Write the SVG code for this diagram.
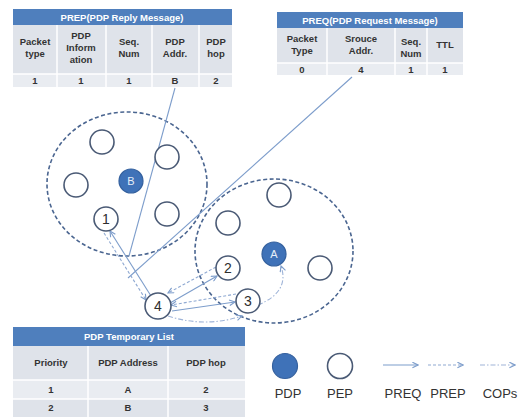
<svg xmlns="http://www.w3.org/2000/svg" width="527" height="417" viewBox="0 0 527 417">
<style>
.hdr{fill:#4f7fbd}
.r1{fill:#dfe3ea}
.r2{fill:#e9ecf1}
.sep{stroke:#fff;stroke-width:1.5}
.ht{font-family:"Liberation Sans",Arial,sans-serif;font-size:9.5px;font-weight:bold;fill:#fff;text-anchor:middle}
.ct{font-family:"Liberation Sans",Arial,sans-serif;font-size:9.5px;font-weight:bold;fill:#333;text-anchor:middle}
.pep{fill:#fff;stroke:#4a5a75;stroke-width:1.6}
.pdp{fill:#3f72b8;stroke:#35619e;stroke-width:1.2}
.nt{font-family:"Liberation Sans",Arial,sans-serif;font-size:14px;fill:#2e2e2e;text-anchor:middle}
.pt{font-family:"Liberation Sans",Arial,sans-serif;font-size:11px;fill:#e6eef8;text-anchor:middle}
.cl{fill:none;stroke:#4a6590;stroke-width:1.6;stroke-dasharray:4 2.5}
.preq{fill:none;stroke:#7d9dcb;stroke-width:1.1;marker-end:url(#ah)}
.prep{fill:none;stroke:#8fa9d2;stroke-width:1.1;stroke-dasharray:3 2;marker-end:url(#ah)}
.cops{fill:none;stroke:#9fb4d8;stroke-width:1.1;stroke-dasharray:5 2 1.5 2;marker-end:url(#ah)}
.ln{fill:none;stroke:#7d9dcb;stroke-width:1.1}
.lt{font-family:"Liberation Sans",Arial,sans-serif;font-size:13px;fill:#333;text-anchor:middle}
</style>
<defs>
<marker id="ah" viewBox="0 0 10 10" refX="9" refY="5" markerWidth="7" markerHeight="7" orient="auto" markerUnits="userSpaceOnUse">
<path d="M1,1 L9,5 L1,9" fill="none" stroke="#7d9dcb" stroke-width="1.6"/>
</marker>
</defs>

<g id="prep-table">
<rect class="hdr" x="13" y="9" width="219" height="16"/>
<text class="ht" x="122" y="20.5">PREP(PDP Reply Message)</text>
<rect class="r1" x="13" y="25" width="219" height="49"/>
<rect class="r2" x="13" y="74" width="219" height="13"/>
<line class="sep" x1="57" y1="25" x2="57" y2="87"/>
<line class="sep" x1="106" y1="25" x2="106" y2="87"/>
<line class="sep" x1="152" y1="25" x2="152" y2="87"/>
<line class="sep" x1="199" y1="25" x2="199" y2="87"/>
<line class="sep" x1="13" y1="74" x2="232" y2="74"/>
<text class="ct" x="35" y="45">Packet</text><text class="ct" x="35" y="57">type</text>
<text class="ct" x="81" y="39">PDP</text><text class="ct" x="81" y="51">Inform</text><text class="ct" x="81" y="63">ation</text>
<text class="ct" x="129" y="45">Seq.</text><text class="ct" x="129" y="57">Num</text>
<text class="ct" x="175" y="45">PDP</text><text class="ct" x="175" y="57">Addr.</text>
<text class="ct" x="216" y="45">PDP</text><text class="ct" x="216" y="57">hop</text>
<text class="ct" x="35" y="84">1</text><text class="ct" x="81" y="84">1</text><text class="ct" x="129" y="84">1</text><text class="ct" x="175" y="84">B</text><text class="ct" x="216" y="84">2</text>
</g>

<g id="preq-table">
<rect class="hdr" x="277" y="12" width="186" height="16"/>
<text class="ht" x="370" y="23.5">PREQ(PDP Request Message)</text>
<rect class="r1" x="277" y="28" width="186" height="35"/>
<rect class="r2" x="277" y="63" width="186" height="12"/>
<line class="sep" x1="327" y1="28" x2="327" y2="75"/>
<line class="sep" x1="395" y1="28" x2="395" y2="75"/>
<line class="sep" x1="427" y1="28" x2="427" y2="75"/>
<line class="sep" x1="277" y1="63" x2="463" y2="63"/>
<text class="ct" x="302" y="42">Packet</text><text class="ct" x="302" y="54">Type</text>
<text class="ct" x="361" y="42">Srouce</text><text class="ct" x="361" y="54">Addr.</text>
<text class="ct" x="411" y="45">Seq.</text><text class="ct" x="411" y="57">Num</text>
<text class="ct" x="445" y="48">TTL</text>
<text class="ct" x="302" y="72.5">0</text><text class="ct" x="361" y="72.5">4</text><text class="ct" x="411" y="72.5">1</text><text class="ct" x="445" y="72.5">1</text>
</g>

<g id="clusters">
<ellipse id="cluster-b" class="cl" cx="127" cy="184" rx="80" ry="72"/>
<ellipse id="cluster-a" class="cl" cx="274" cy="251" rx="79" ry="72"/>
</g>

<g id="connectors">
<line class="ln" x1="175" y1="88" x2="129" y2="256"/>
<line class="ln" x1="352" y1="77" x2="128" y2="278"/>
<line class="preq" x1="151" y1="296" x2="110" y2="231"/>
<line class="prep" x1="104" y1="233" x2="146" y2="300"/>
<line class="preq" x1="170" y1="303" x2="217" y2="276"/>
<line class="prep" x1="216" y1="267" x2="168" y2="293"/>
<line class="preq" x1="172" y1="311" x2="235" y2="302"/>
<line class="prep" x1="236" y1="294" x2="171" y2="305"/>
<path class="cops" d="M168,316 Q205,328 242,316"/>
<path class="cops" d="M258,305 Q290,292 281,266"/>
</g>

<g id="node-pep-1"><circle class="pep" cx="102" cy="142" r="12"/></g>
<g id="node-pep-2"><circle class="pep" cx="167" cy="157" r="12"/></g>
<g id="node-pep-3"><circle class="pep" cx="76" cy="185" r="12"/></g>
<g id="node-b"><circle class="pdp" cx="131" cy="181" r="12"/><text class="pt" x="131" y="185">B</text></g>
<g id="node-pep-4"><circle class="pep" cx="167" cy="214" r="12"/></g>
<g id="node-1"><circle class="pep" cx="106" cy="219" r="12"/><text class="nt" x="106" y="224">1</text></g>

<g id="node-pep-5"><circle class="pep" cx="279" cy="195" r="12"/></g>
<g id="node-pep-6"><circle class="pep" cx="228" cy="223" r="12"/></g>
<g id="node-a"><circle class="pdp" cx="274" cy="254" r="12"/><text class="pt" x="274" y="258">A</text></g>
<g id="node-pep-7"><circle class="pep" cx="320" cy="268" r="12"/></g>
<g id="node-2"><circle class="pep" cx="228" cy="268" r="12"/><text class="nt" x="228" y="273">2</text></g>
<g id="node-3"><circle class="pep" cx="248" cy="301" r="12"/><text class="nt" x="248" y="306">3</text></g>
<g id="node-4"><circle class="pep" cx="158" cy="306" r="13"/><text class="nt" x="158" y="311">4</text></g>

<g id="pdp-list">
<rect class="hdr" x="13" y="327" width="232" height="19"/>
<text class="ht" x="129" y="340">PDP Temporary List</text>
<rect class="r1" x="13" y="346" width="232" height="34"/>
<rect class="r2" x="13" y="380" width="232" height="19"/>
<rect class="r1" x="13" y="399" width="232" height="18"/>
<line class="sep" x1="88" y1="346" x2="88" y2="417"/>
<line class="sep" x1="168" y1="346" x2="168" y2="417"/>
<line class="sep" x1="13" y1="380" x2="245" y2="380"/>
<line class="sep" x1="13" y1="399" x2="245" y2="399"/>
<text class="ct" x="51" y="366">Priority</text><text class="ct" x="128" y="366">PDP Address</text><text class="ct" x="206" y="366">PDP hop</text>
<text class="ct" x="51" y="393">1</text><text class="ct" x="128" y="393">A</text><text class="ct" x="206" y="393">2</text>
<text class="ct" x="51" y="411">2</text><text class="ct" x="128" y="411">B</text><text class="ct" x="206" y="411">3</text>
</g>

<g id="legend">
<circle class="pdp" cx="285" cy="366" r="12.5"/>
<circle class="pep" cx="340" cy="366" r="12.5"/>
<text class="lt" x="288" y="398">PDP</text>
<text class="lt" x="340" y="398">PEP</text>
<line class="preq" x1="383" y1="365" x2="418" y2="365"/>
<line class="prep" x1="428" y1="365" x2="463" y2="365"/>
<line class="cops" x1="480" y1="365" x2="515" y2="365"/>
<text class="lt" x="403" y="398">PREQ</text>
<text class="lt" x="448" y="398">PREP</text>
<text class="lt" x="500" y="398">COPs</text>
</g>
</svg>
